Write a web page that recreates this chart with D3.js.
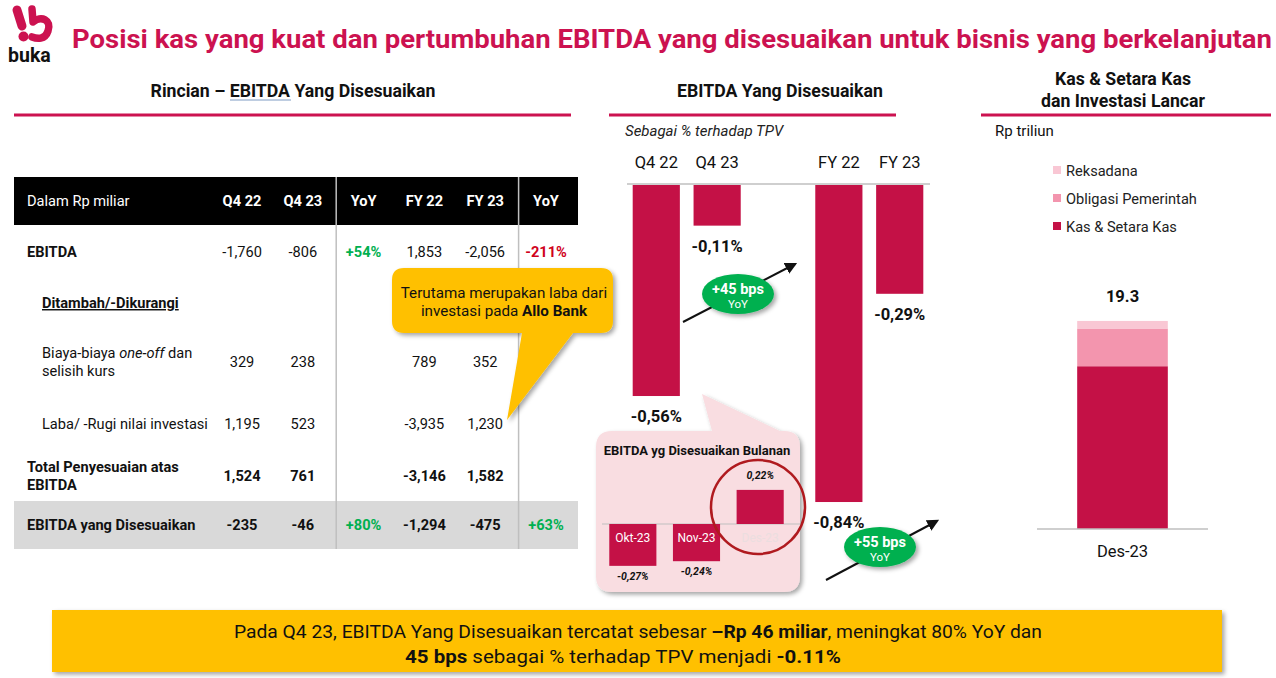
<!DOCTYPE html>
<html><head><meta charset="utf-8">
<script src="https://cdnjs.cloudflare.com/ajax/libs/d3/7.8.5/d3.min.js"></script>
<style>
html,body{margin:0;padding:0;background:#fff;}
svg{display:block;font-family:Roboto,"Noto Sans",sans-serif;}
</style></head>
<body><svg id="c" width="1276" height="678"></svg>
<script>
// ---------- DATA ----------
const titleText = "Posisi kas yang kuat dan pertumbuhan EBITDA yang disesuaikan untuk bisnis yang berkelanjutan";
const tableColumns = ["Q4 22", "Q4 23", "YoY", "FY 22", "FY 23", "YoY"];
const rowEbitda = ["-1,760", "-806", "+54%", "1,853", "-2,056", "-211%"];
const rowOneOff = ["329", "238", "", "789", "352", ""];
const rowInvest = ["1,195", "523", "", "-3,935", "1,230", ""];
const rowTotalAdj = ["1,524", "761", "", "-3,146", "1,582", ""];
const rowAdjEbitda = ["-235", "-46", "+80%", "-1,294", "-475", "+63%"];

const tpvCategories = ["Q4 22", "Q4 23", "FY 22", "FY 23"];
const tpvValues = [-0.56, -0.11, -0.84, -0.29];
const tpvLabels = ["-0,56%", "-0,11%", "-0,84%", "-0,29%"];
const yoyBadges = ["+45 bps", "+55 bps"];

const monthCategories = ["Okt-23", "Nov-23", "Des-23"];
const monthValues = [-0.27, -0.24, 0.22];
const monthLabels = ["-0,27%", "-0,24%", "0,22%"];

const cashCategory = ["Des-23"];
const cashSeries = ["Kas & Setara Kas", "Obligasi Pemerintah", "Reksadana"];
const cashValues = [15.1, 3.5, 0.7];
const cashTotalLabel = "19.3";

// ---------- STYLE ----------
const CRIMSON = "#C41146";
const TITLE = "#CC1250";
const GOLD = "#FFC000";
const GREEN = "#00B050";
const cashColors = ["#C41146", "#F395AE", "#F9C7D4"];
const FS = 14.6;

const svg = d3.select("#c");
const defs = svg.append("defs");
const sh = defs.append("filter").attr("id","shadow").attr("x","-20%").attr("y","-20%").attr("width","150%").attr("height","160%");
sh.append("feDropShadow").attr("dx",2.5).attr("dy",2.5).attr("stdDeviation",2).attr("flood-color","#000").attr("flood-opacity",0.35);

// ---------- LOGO ----------
const logo = svg.append("g");
logo.append("line").attr("x1",17).attr("y1",10).attr("x2",22).attr("y2",26)
  .attr("stroke",TITLE).attr("stroke-width",9).attr("stroke-linecap","round");
logo.append("circle").attr("cx",23.5).attr("cy",36.5).attr("r",5).attr("fill",TITLE);
logo.append("path").attr("d","M32,9 L33,22 C41,15 52,20 48,31 C45,40 37,39 32,37")
  .attr("fill","none").attr("stroke",TITLE).attr("stroke-width",7.5).attr("stroke-linecap","round").attr("stroke-linejoin","round");
logo.append("text").attr("x",8).attr("y",62).attr("font-size",19.5).attr("font-weight",700).attr("fill","#111").text("buka");

// ---------- TITLE ----------
svg.append("text").attr("x",72).attr("y",48).attr("font-size",26).attr("font-weight",700)
  .attr("fill",TITLE).attr("textLength",1200).attr("lengthAdjust","spacingAndGlyphs").text(titleText);

// ---------- SECTION HEADERS ----------
function header(lines, cx, y0, x1, x2){
  lines.forEach((l,i)=>svg.append("text").attr("x",cx).attr("y",y0+i*22).attr("text-anchor","middle")
    .attr("font-size",17.7).attr("font-weight",700).attr("fill","#111").text(l));
  svg.append("line").attr("x1",x1).attr("x2",x2).attr("y1",115).attr("y2",115).attr("stroke",TITLE).attr("stroke-width",3);
}
header(["Rincian – EBITDA Yang Disesuaikan"], 293, 97, 14, 571);
svg.append("line").attr("x1",230).attr("x2",291).attr("y1",100).attr("y2",100).attr("stroke","#7f9cc4").attr("stroke-width",1);
header(["EBITDA Yang Disesuaikan"], 780, 97, 609, 896);
header(["Kas & Setara Kas","dan Investasi Lancar"], 1123, 85, 981, 1271);

// ---------- TABLE ----------
const tx = d3.scalePoint().domain(d3.range(tableColumns.length)).range([242, 546]);
const tLeft = 14, tRight = 578;
svg.append("rect").attr("x",tLeft).attr("y",177).attr("width",tRight-tLeft).attr("height",48).attr("fill","#000");
svg.append("rect").attr("x",tLeft).attr("y",501).attr("width",tRight-tLeft).attr("height",48).attr("fill","#D9D9D9");
const sep1 = (tx(1)+tx(2))/2+3, sep2 = (tx(4)+tx(5))/2+3;
[sep1, sep2].forEach(x=>svg.append("line").attr("x1",x).attr("x2",x).attr("y1",177).attr("y2",549).attr("stroke","#BFBFBF").attr("stroke-width",1.5));
svg.append("text").attr("x",27).attr("y",206).attr("font-size",FS).attr("fill","#fff").text("Dalam Rp miliar");
tableColumns.forEach((c,i)=>svg.append("text").attr("x",tx(i)).attr("y",206).attr("text-anchor","middle")
  .attr("font-size",FS).attr("font-weight",700).attr("fill","#fff").text(c));

function valueRow(vals, y, bold){
  vals.forEach((v,i)=>{
    if(!v) return;
    let fill = "#111";
    if(v.endsWith("%")) fill = v.startsWith("+") ? GREEN : "#D0021B";
    svg.append("text").attr("x",tx(i)).attr("y",y).attr("text-anchor","middle").attr("font-size",FS)
      .attr("font-weight",(bold||v.endsWith("%"))?700:400).attr("fill",fill).text(v);
  });
}
function label(txt, x, y, bold){
  return svg.append("text").attr("x",x).attr("y",y).attr("font-size",FS).attr("font-weight",bold?700:400).attr("fill","#111").text(txt);
}
label("EBITDA",27,257,true); valueRow(rowEbitda,257,false);
label("Ditambah/-Dikurangi",42,308,true).attr("text-decoration","underline");
const oneoff = svg.append("text").attr("x",42).attr("y",358).attr("font-size",FS).attr("fill","#111");
oneoff.append("tspan").text("Biaya-biaya ");
oneoff.append("tspan").attr("font-style","italic").text("one-off");
oneoff.append("tspan").text(" dan");
label("selisih kurs",42,376,false);
valueRow(rowOneOff,367,false);
label("Laba/ -Rugi nilai investasi",42,429,false); valueRow(rowInvest,429,false);
label("Total Penyesuaian atas",27,472,true); label("EBITDA",27,490,true);
valueRow(rowTotalAdj,481,true);
label("EBITDA yang Disesuaikan",27,530,true); valueRow(rowAdjEbitda,530,true);

// yellow callout
const yc = svg.append("g").attr("filter","url(#shadow)");
yc.append("path").attr("d","M404,268 H601 Q613,268 613,280 V321 Q613,333 601,333 H573 L507,420 L522,333 H404 Q392,333 392,321 V280 Q392,268 404,268 Z").attr("fill",GOLD);
svg.append("text").attr("x",504).attr("y",298).attr("text-anchor","middle").attr("font-size",15.2).attr("fill","#111").text("Terutama merupakan laba dari");
const ab = svg.append("text").attr("x",504).attr("y",316).attr("text-anchor","middle").attr("font-size",15.2).attr("fill","#111");
ab.append("tspan").text("investasi pada ");
ab.append("tspan").attr("font-weight",700).text("Allo Bank");

// ---------- TPV CHART ----------
svg.append("text").attr("x",625).attr("y",136).attr("font-size",15).attr("font-style","italic").attr("fill","#222").text("Sebagai % terhadap TPV");
const bx = d3.scaleBand().domain([tpvCategories[0],tpvCategories[1],"_gap",tpvCategories[2],tpvCategories[3]])
  .range([626,930]).paddingInner(0.225).paddingOuter(0.11);
const by = d3.scaleLinear().domain([-0.9,0]).range([184+0.9*378.6,184]);
svg.append("line").attr("x1",627).attr("x2",930).attr("y1",by(0)).attr("y2",by(0)).attr("stroke","#BFBFBF").attr("stroke-width",1.5);
tpvCategories.forEach((c,i)=>{
  const cx = bx(c)+bx.bandwidth()/2;
  svg.append("text").attr("x",cx).attr("y",168).attr("text-anchor","middle").attr("font-size",16.5).attr("fill","#111").text(c);
  svg.append("rect").attr("x",bx(c)).attr("y",by(0)+1).attr("width",bx.bandwidth()).attr("height",by(tpvValues[i])-by(0)-1).attr("fill",CRIMSON);
  svg.append("text").attr("x",cx).attr("y",by(tpvValues[i])+26).attr("text-anchor","middle").attr("font-size",16.5).attr("font-weight",700).attr("fill","#111").text(tpvLabels[i]);
});

// arrows and badges
const mk = defs.append("marker").attr("id","arr").attr("viewBox","0 0 10 10").attr("refX",8).attr("refY",5)
  .attr("markerWidth",6).attr("markerHeight",6).attr("orient","auto");
mk.append("path").attr("d","M0,0 L10,5 L0,10 Z").attr("fill","#111");
function badge(x1,y1,x2,y2,cx,cy,txt){
  svg.append("line").attr("x1",x1).attr("y1",y1).attr("x2",x2).attr("y2",y2).attr("stroke","#111").attr("stroke-width",2).attr("marker-end","url(#arr)");
  svg.append("ellipse").attr("cx",cx).attr("cy",cy).attr("rx",36).attr("ry",20).attr("fill",GREEN).attr("filter","url(#shadow)");
  svg.append("text").attr("x",cx).attr("y",cy).attr("text-anchor","middle").attr("font-size",14.5).attr("font-weight",700).attr("fill","#fff").text(txt);
  svg.append("text").attr("x",cx).attr("y",cy+14).attr("text-anchor","middle").attr("font-size",11.5).attr("fill","#fff").text("YoY");
}
badge(683,322,795,264,738,294,yoyBadges[0]);
badge(826,580,937,521,880,547,yoyBadges[1]);

// ---------- MONTHLY INSET ----------
const pk = svg.append("g").attr("filter","url(#shadow)");
pk.append("path").attr("d","M612,431 H712 L702,394 L780,431 H784 Q800,431 800,447 V576 Q800,592 784,592 H612 Q596,592 596,576 V447 Q596,431 612,431 Z").attr("fill","#F9DDE1");
svg.append("text").attr("x",697).attr("y",455).attr("text-anchor","middle").attr("font-size",13).attr("font-weight",700).attr("fill","#111").text("EBITDA yg Disesuaikan Bulanan");
const mx = d3.scaleBand().domain(monthCategories).range([601,792]).paddingInner(0.26).paddingOuter(0.13);
const my = d3.scaleLinear().domain([-0.3,0.3]).range([524+46.5,524-46.5]);
svg.append("line").attr("x1",602).attr("x2",802).attr("y1",my(0)).attr("y2",my(0)).attr("stroke","#BFBFBF").attr("stroke-width",1);
monthCategories.forEach((c,i)=>{
  const v = monthValues[i], cx = mx(c)+mx.bandwidth()/2;
  const y0 = Math.min(my(0),my(v)), h = Math.abs(my(v)-my(0));
  svg.append("rect").attr("x",mx(c)).attr("y",y0).attr("width",mx.bandwidth()).attr("height",h).attr("fill",CRIMSON);
  svg.append("text").attr("x",cx).attr("y",my(0)+18).attr("text-anchor","middle").attr("font-size",12)
    .attr("fill", v<0 ? "#fff" : "#EBDDDF").text(c);
  svg.append("text").attr("x",cx).attr("y", v<0 ? my(v)+14 : my(v)-11).attr("text-anchor","middle").attr("font-size",10.5)
    .attr("font-weight",700).attr("font-style","italic").attr("fill","#111").text(monthLabels[i]);
});
svg.append("circle").attr("cx",758).attr("cy",507).attr("r",47).attr("fill","none").attr("stroke","#B01A1F").attr("stroke-width",2.5);

// ---------- CASH CHART ----------
svg.append("text").attr("x",995).attr("y",136).attr("font-size",15).attr("fill","#111").text("Rp triliun");
const legendOrder = [2,1,0];
legendOrder.forEach((k,j)=>{
  const y = 171 + j*28;
  svg.append("rect").attr("x",1053).attr("y",y-5).attr("width",8).attr("height",8).attr("fill",cashColors[k]);
  svg.append("text").attr("x",1066).attr("y",y+5).attr("font-size",14.6).attr("fill","#222").text(cashSeries[k]);
});
const cx2 = d3.scaleBand().domain(cashCategory).range([1037,1208]).paddingInner(0.47).paddingOuter(0.235);
const cy2 = d3.scaleLinear().domain([0,20]).range([529,529-215.6]);
const stackRow = {cat: cashCategory[0]};
cashSeries.forEach((s,i)=>stackRow[s]=cashValues[i]);
const stacked = d3.stack().keys(cashSeries)([stackRow]);
stacked.forEach((layer,i)=>{
  layer.forEach(d=>{
    svg.append("rect").attr("x",cx2(d.data.cat)).attr("y",cy2(d[1])).attr("width",cx2.bandwidth())
      .attr("height",cy2(d[0])-cy2(d[1])).attr("fill",cashColors[i]);
  });
});
svg.append("line").attr("x1",1037).attr("x2",1208).attr("y1",cy2(0)).attr("y2",cy2(0)).attr("stroke","#BFBFBF").attr("stroke-width",1.5);
const ccx = cx2(cashCategory[0])+cx2.bandwidth()/2;
svg.append("text").attr("x",ccx).attr("y",cy2(d3.sum(cashValues))-19).attr("text-anchor","middle").attr("font-size",16.5).attr("font-weight",700).attr("fill","#111").text(cashTotalLabel);
svg.append("text").attr("x",ccx).attr("y",557).attr("text-anchor","middle").attr("font-size",16.5).attr("fill","#111").text(cashCategory[0]);

// ---------- BOTTOM BOX ----------
svg.append("rect").attr("x",52).attr("y",610).attr("width",1170).attr("height",62).attr("fill",GOLD).attr("filter","url(#shadow)");
const b1 = svg.append("text").attr("x",638).attr("y",638).attr("text-anchor","middle").attr("font-size",18.5).attr("fill","#111")
  .attr("textLength",808).attr("lengthAdjust","spacingAndGlyphs");
b1.append("tspan").text("Pada Q4 23, EBITDA Yang Disesuaikan tercatat sebesar ");
b1.append("tspan").attr("font-weight",700).text("–Rp 46 miliar");
b1.append("tspan").text(", meningkat 80% YoY dan");
const b2 = svg.append("text").attr("x",623).attr("y",663).attr("text-anchor","middle").attr("font-size",18.5).attr("fill","#111")
  .attr("textLength",436).attr("lengthAdjust","spacingAndGlyphs");
b2.append("tspan").attr("font-weight",700).text("45 bps");
b2.append("tspan").text(" sebagai % terhadap TPV menjadi ");
b2.append("tspan").attr("font-weight",700).text("-0.11%");
</script></body></html>
